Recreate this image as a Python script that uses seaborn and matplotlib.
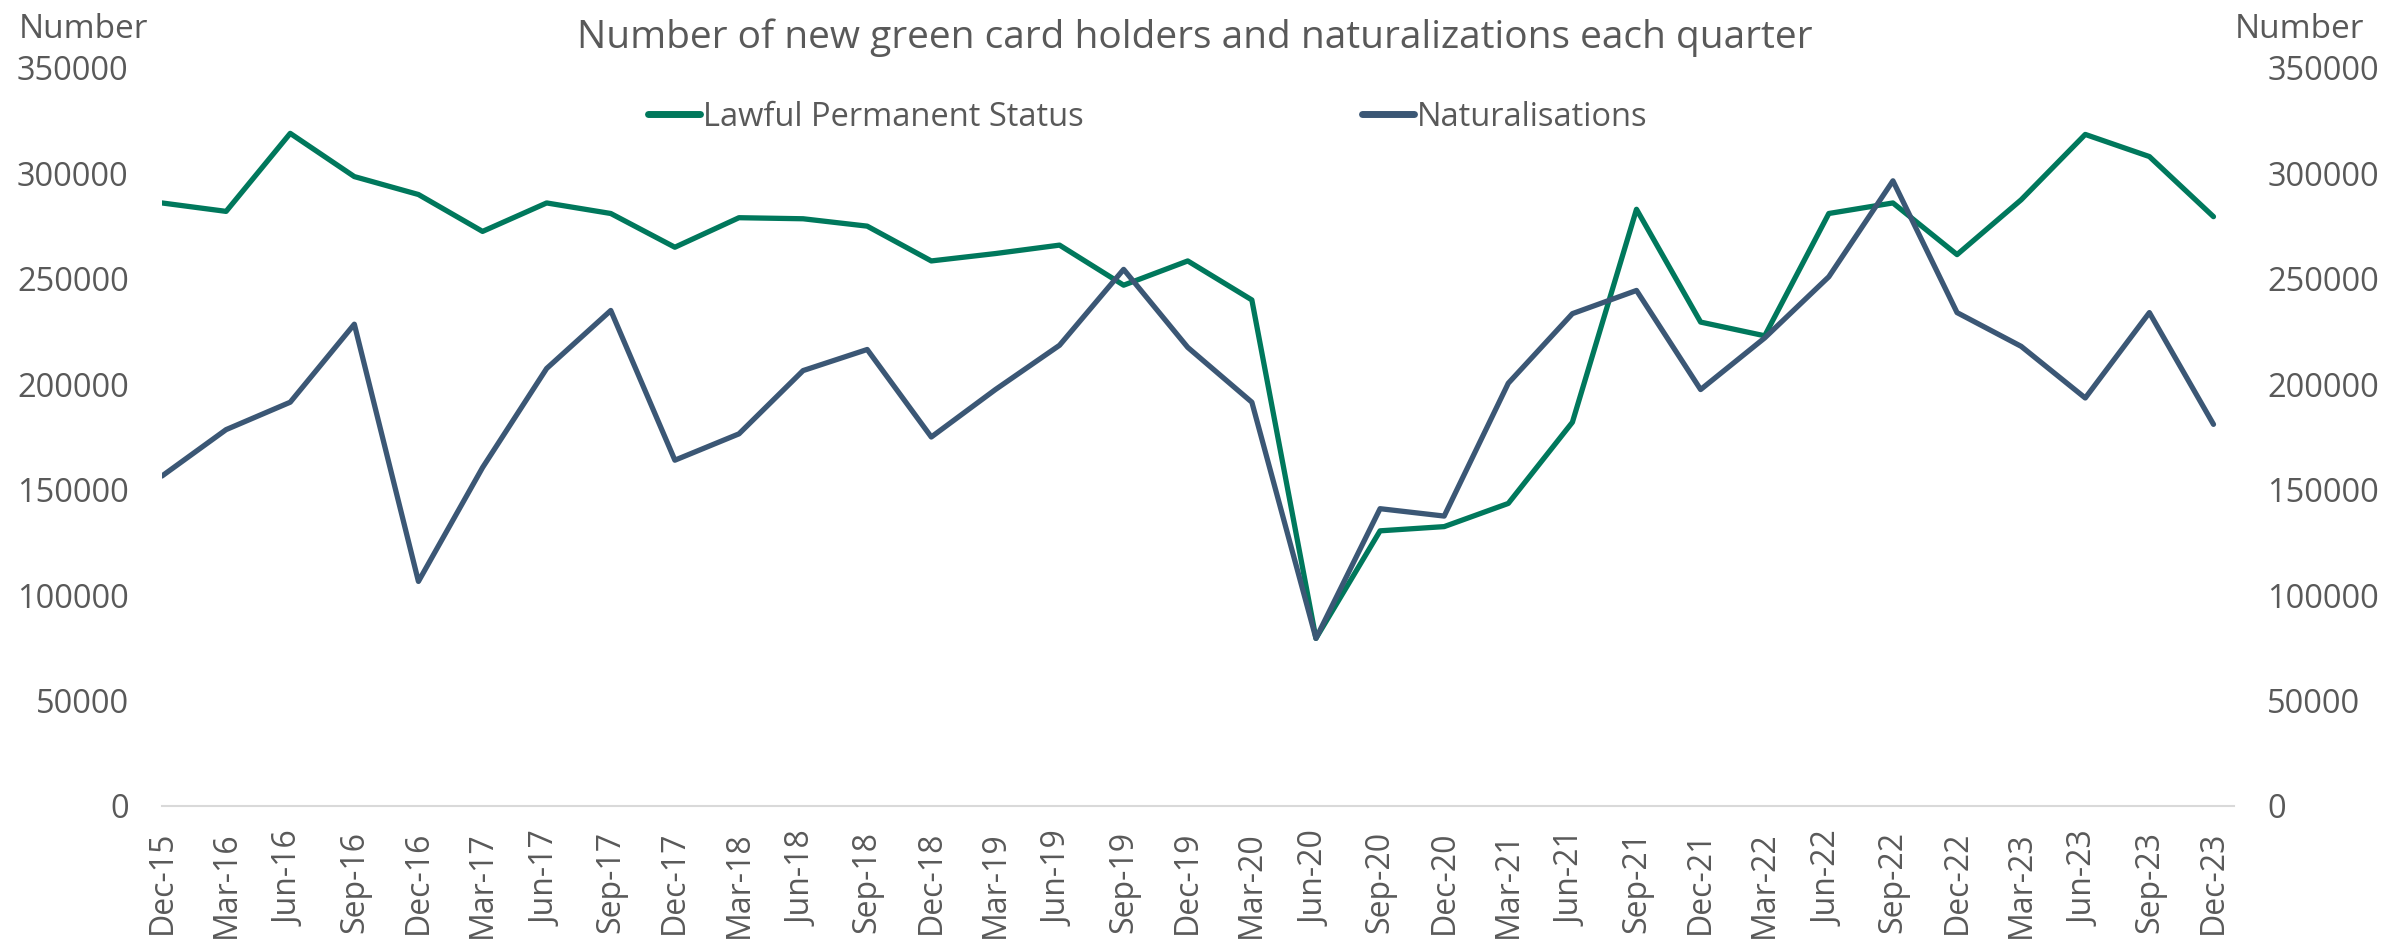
import pandas as pd
import matplotlib
matplotlib.use("Agg")
import matplotlib.pyplot as plt
import seaborn as sns

# --------------------------
# Data
# --------------------------
quarters = ["Dec-15", "Mar-16", "Jun-16", "Sep-16", "Dec-16", "Mar-17", "Jun-17", "Sep-17",
            "Dec-17", "Mar-18", "Jun-18", "Sep-18", "Dec-18", "Mar-19", "Jun-19", "Sep-19",
            "Dec-19", "Mar-20", "Jun-20", "Sep-20", "Dec-20", "Mar-21", "Jun-21", "Sep-21",
            "Dec-21", "Mar-22", "Jun-22", "Sep-22", "Dec-22", "Mar-23", "Jun-23", "Sep-23",
            "Dec-23"]

lawful_permanent = [286000, 282000, 319000, 298500, 290000, 272500, 286000, 281000,
                    265000, 279000, 278500, 275000, 258500, 262000, 266000, 247000,
                    258500, 240000, 79500, 130500, 132500, 143500, 182000, 283000,
                    229500, 223000, 281000, 286000, 261500, 287500, 318500, 308000,
                    279500]

naturalisations = [156500, 178500, 191500, 228500, 106500, 160500, 207500, 235000,
                   164000, 176500, 206500, 216500, 175000, 197500, 218500, 254500,
                   217500, 191500, 79500, 141000, 137500, 200500, 233500, 244500,
                   197500, 222000, 251000, 296500, 234000, 218000, 193500, 234000,
                   181000]

series_names = ["Lawful Permanent Status", "Naturalisations"]

df = pd.DataFrame({
    "idx": list(range(len(quarters))) * 2,
    "value": lawful_permanent + naturalisations,
    "series": [series_names[0]] * len(quarters) + [series_names[1]] * len(quarters),
})

# --------------------------
# Style
# --------------------------
sns.set_theme(style="white")
plt.rcParams["font.family"] = ["Open Sans", "DejaVu Sans"]
grey = "#595959"
palette = {series_names[0]: "#00785C", series_names[1]: "#3B5775"}

fig = plt.figure(figsize=(23.89, 9.42), dpi=100)
ax = fig.add_axes([162 / 2389, 1 - 806 / 942, (2234 - 162) / 2389, (806 - 68) / 942])

sns.lineplot(data=df, x="idx", y="value", hue="series", palette=palette,
             linewidth=3.8, ax=ax, legend=True)

ax.set_xlim(0, len(quarters) - 1 + 0.32)
ax.set_ylim(0, 350000)
ax.set_yticks(range(0, 350001, 50000))
ax.set_yticklabels([str(v) for v in range(0, 350001, 50000)])
ax.set_xticks(range(len(quarters)))
ax.set_xticklabels(quarters, rotation=90)
ax.set_xlabel("")
ax.set_ylabel("")

for s in ["top", "left", "right"]:
    ax.spines[s].set_visible(False)
ax.spines["bottom"].set_color("#D9D9D9")
ax.spines["bottom"].set_linewidth(1.5)

ax.tick_params(axis="x", colors="#D9D9D9", length=8, width=1.5, pad=10,
               labelcolor=grey, labelsize=23)
ax.tick_params(axis="y", length=0, pad=24, labelcolor=grey, labelsize=23.5,
               labelright=True, labelleft=True)

# legend in one row, two widely spaced entries
handles, labels = ax.get_legend_handles_labels()
leg = ax.legend(handles, labels, ncol=2, frameon=False, loc="center left",
                bbox_to_anchor=(648 / 2389, 1 - 117 / 942), bbox_transform=fig.transFigure,
                fontsize=23.5, handlelength=1.6, handletextpad=0.1, columnspacing=8.5,
                borderpad=0, borderaxespad=0)
for t in leg.get_texts():
    t.set_color(grey)
for h in leg.get_lines():
    h.set_linewidth(5)

fig.text(0.5, 1 - 48 / 942, "Number of new green card holders and naturalizations each quarter",
         ha="center", va="baseline", fontsize=28, color=grey)
fig.text(19 / 2389, 1 - 38 / 942, "Number", ha="left", va="baseline", fontsize=24, color=grey)
fig.text(2364 / 2389, 1 - 38 / 942, "Number", ha="right", va="baseline", fontsize=24, color=grey)

fig.savefig("out.png", dpi=100, facecolor="white")
